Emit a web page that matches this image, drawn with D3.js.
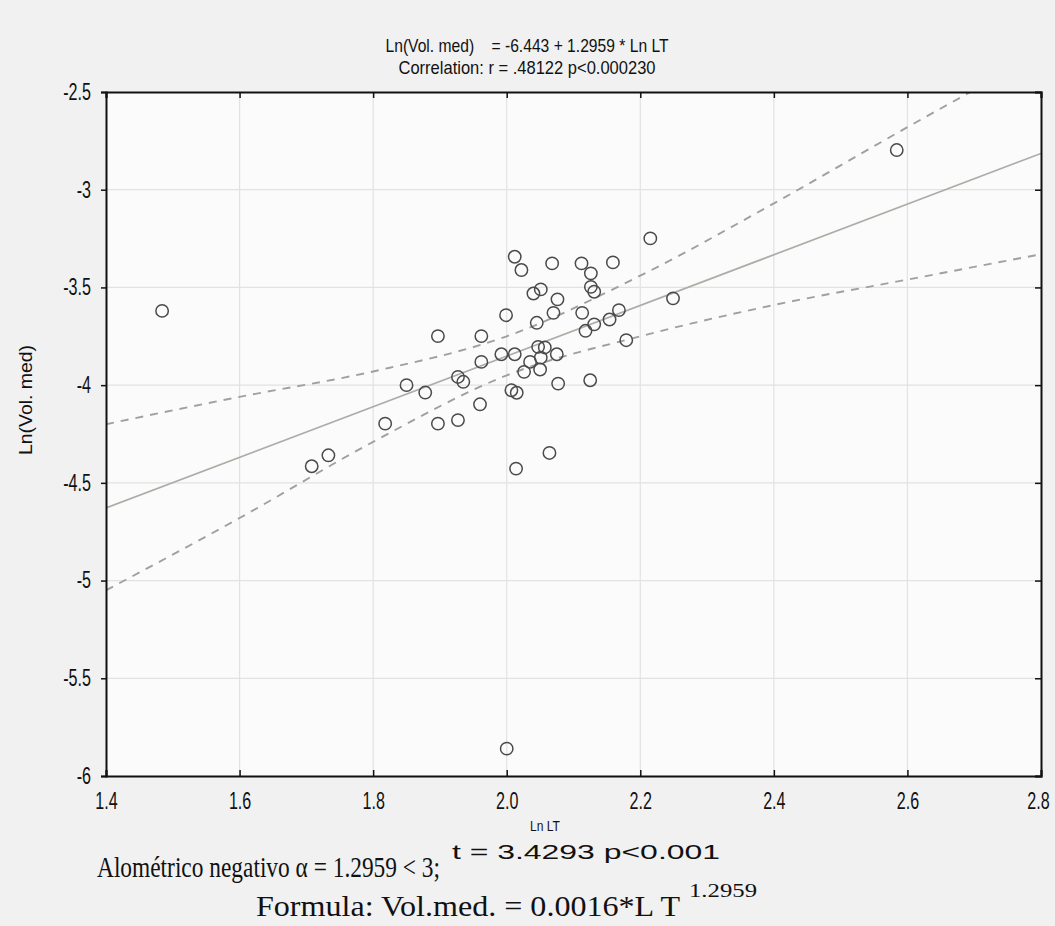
<!DOCTYPE html>
<html>
<head>
<meta charset="utf-8">
<script src="https://cdn.jsdelivr.net/npm/d3@7"></script>
<style>
  body { margin: 0; background: #f1f1f1; }
  svg { display: block; }
</style>
</head>
<body>
<svg id="chart" width="1055" height="926"></svg>
<script>
// scatter points: Ln LT vs Ln(Vol. med)
const lnLT = [1.484, 2.584, 2.000, 2.215, 2.012, 2.022, 2.068, 2.112, 2.126, 2.159,
    2.126, 2.131, 2.040, 2.051, 2.076, 2.070, 2.113, 2.249, 1.999, 2.045,
    2.168, 2.154, 2.131, 2.118, 1.897, 1.962, 2.179, 2.047, 2.057, 1.992,
    2.012, 2.075, 2.051, 2.035, 1.962, 2.050, 2.026, 2.125, 2.077, 1.927,
    1.935, 1.850, 1.878, 2.007, 2.015, 1.960, 1.818, 1.897, 1.927, 2.064,
    2.014, 1.733, 1.708]
const lnVol = [-3.620, -2.797, -5.860, -3.249, -3.343, -3.411, -3.377, -3.377, -3.428, -3.372,
    -3.497, -3.522, -3.531, -3.510, -3.561, -3.630, -3.630, -3.556, -3.642, -3.681,
    -3.616, -3.664, -3.689, -3.722, -3.749, -3.749, -3.770, -3.804, -3.807, -3.842,
    -3.842, -3.842, -3.859, -3.881, -3.881, -3.920, -3.932, -3.975, -3.992, -3.958,
    -3.983, -4.000, -4.038, -4.026, -4.039, -4.098, -4.197, -4.197, -4.179, -4.347,
    -4.427, -4.359, -4.415]

// regression coefficients from the title
const intercept = -6.443
const slope = 1.2959

// dashed confidence bands read at the x ticks
const bandX = [1.4, 1.6, 1.8, 2.0, 2.2, 2.4, 2.6, 2.8]
const bandUpper = [-4.20, -4.06, -3.93, -3.75, -3.44, -3.07, -2.68, -2.30]
const bandLower = [-5.05, -4.68, -4.29, -3.95, -3.75, -3.59, -3.46, -3.33]

const xTicks = [1.4, 1.6, 1.8, 2.0, 2.2, 2.4, 2.6, 2.8]
const yTicks = [-2.5, -3, -3.5, -4, -4.5, -5, -5.5, -6]

const svg = d3.select('#chart')
const margin = { top: 92, right: 14, bottom: 150, left: 106 }
const width = 1055, height = 926
const innerW = width - margin.left - margin.right
const innerH = height - margin.top - margin.bottom

const sans = '"Liberation Sans", Arial, sans-serif'
const serif = '"Liberation Serif", "Times New Roman", serif'

// squeeze or stretch text horizontally like the scanned original
function squeeze(sel, factor) {
    sel.each(function () {
        const w = this.getComputedTextLength()
        d3.select(this).attr('textLength', w * factor).attr('lengthAdjust', 'spacingAndGlyphs')
    })
}
function fitTo(sel, len) {
    sel.attr('textLength', len).attr('lengthAdjust', 'spacingAndGlyphs')
}

const x = d3.scaleLinear().domain([1.4, 2.8]).range([margin.left, margin.left + innerW])
const y = d3.scaleLinear().domain([-6, -2.5]).range([margin.top + innerH, margin.top])

// plot background
svg.append('rect')
    .attr('x', margin.left).attr('y', margin.top)
    .attr('width', innerW).attr('height', innerH)
    .attr('fill', '#fbfbfb')

svg.append('clipPath').attr('id', 'clip')
    .append('rect')
    .attr('x', margin.left).attr('y', margin.top)
    .attr('width', innerW).attr('height', innerH)

// grid lines
const grid = svg.append('g').attr('stroke', '#e2e2e2').attr('stroke-width', 1.2)
grid.selectAll('line.vx')
    .data(xTicks.slice(1, -1))
    .join('line')
    .attr('x1', d => x(d)).attr('x2', d => x(d))
    .attr('y1', margin.top).attr('y2', margin.top + innerH)
grid.selectAll('line.hy')
    .data(yTicks.slice(1, -1))
    .join('line')
    .attr('y1', d => y(d)).attr('y2', d => y(d))
    .attr('x1', margin.left).attr('x2', margin.left + innerW)

const plot = svg.append('g').attr('clip-path', 'url(#clip)')

// fitted line
plot.append('line')
    .attr('x1', x(1.4)).attr('y1', y(intercept + slope * 1.4))
    .attr('x2', x(2.8)).attr('y2', y(intercept + slope * 2.8))
    .attr('stroke', '#a9aea6')
    .attr('stroke-width', 1.7)

// confidence bands
const band = d3.line()
    .x((d, i) => x(bandX[i]))
    .y(d => y(d))
    .curve(d3.curveMonotoneX)

plot.selectAll('path.band')
    .data([bandUpper, bandLower])
    .join('path')
    .attr('d', band)
    .attr('fill', 'none')
    .attr('stroke', '#a0a0a0')
    .attr('stroke-width', 1.9)
    .attr('stroke-dasharray', '8,7')

// points
plot.selectAll('circle')
    .data(lnLT.map((v, i) => [v, lnVol[i]]))
    .join('circle')
    .attr('cx', d => x(d[0]))
    .attr('cy', d => y(d[1]))
    .attr('r', 6.2)
    .attr('fill', 'none')
    .attr('stroke', '#4a4a4a')
    .attr('stroke-width', 1.5)

// axes
svg.append('g')
    .attr('transform', `translate(${margin.left},0)`)
    .call(d3.axisLeft(y).tickValues(yTicks).tickFormat(d => d.toString()).tickSize(5).tickPadding(10))
svg.append('g')
    .attr('class', 'xaxis')
    .attr('transform', `translate(0,${margin.top + innerH})`)
    .call(d3.axisBottom(x).tickValues(xTicks).tickFormat(d3.format('.1f')).tickSize(-6))
svg.append('g')
    .attr('transform', `translate(${margin.left + innerW},0)`)
    .call(d3.axisRight(y).tickValues(yTicks).tickFormat('').tickSize(-6))
svg.append('g')
    .attr('transform', `translate(0,${margin.top})`)
    .call(d3.axisTop(x).tickValues(xTicks).tickFormat('').tickSize(-6))

svg.selectAll('.domain').attr('stroke', '#111').attr('stroke-width', 2)
svg.selectAll('.tick line').attr('stroke', '#111').attr('stroke-width', 1.5)
svg.selectAll('.tick text')
    .attr('font-family', sans).attr('font-size', 23).attr('fill', '#111')
svg.selectAll('.xaxis .tick text').attr('y', 33).attr('dy', 0)
squeeze(svg.selectAll('.tick text'), 0.7)
// keep the last x label inside the page
svg.selectAll('.xaxis .tick text').filter(d => d === 2.8).attr('x', -3)

// titles
const t1 = svg.append('text')
    .attr('x', 527).attr('y', 52)
    .attr('text-anchor', 'middle')
    .attr('font-family', sans).attr('font-size', 19).attr('fill', '#111')
    .attr('xml:space', 'preserve')
    .text('Ln(Vol. med)    = -6.443 + 1.2959 * Ln LT')
fitTo(t1, 283)

const t2 = svg.append('text')
    .attr('x', 527).attr('y', 74)
    .attr('text-anchor', 'middle')
    .attr('font-family', sans).attr('font-size', 19).attr('fill', '#111')
    .text('Correlation: r = .48122 p<0.000230')
fitTo(t2, 257)

const yl = svg.append('text')
    .attr('transform', 'translate(32,400) rotate(-90)')
    .attr('text-anchor', 'middle')
    .attr('font-family', sans).attr('font-size', 18).attr('fill', '#111')
    .text('Ln(Vol. med)')
fitTo(yl, 110)

const xl = svg.append('text')
    .attr('x', 545).attr('y', 831)
    .attr('text-anchor', 'middle')
    .attr('font-family', sans).attr('font-size', 15).attr('fill', '#111')
    .text('Ln LT')
fitTo(xl, 30)

// notes below the chart
const n1 = svg.append('text')
    .attr('x', 97).attr('y', 877)
    .attr('font-family', serif).attr('font-size', 29).attr('fill', '#111')
    .text('Alométrico negativo α = 1.2959 < 3;')
fitTo(n1, 343)

const n1sup = svg.append('text')
    .attr('x', 452).attr('y', 859)
    .attr('font-family', sans).attr('font-size', 21).attr('fill', '#111')
    .text('t = 3.4293 p<0.001')
fitTo(n1sup, 268)

const n2 = svg.append('text')
    .attr('x', 256).attr('y', 916)
    .attr('font-family', serif).attr('font-size', 30).attr('fill', '#111')
    .text('Formula: Vol.med. = 0.0016*L T')
fitTo(n2, 424)

const n2sup = svg.append('text')
    .attr('x', 689).attr('y', 897)
    .attr('font-family', serif).attr('font-size', 18).attr('fill', '#111')
    .text('1.2959')
fitTo(n2sup, 68)
</script>
</body>
</html>
